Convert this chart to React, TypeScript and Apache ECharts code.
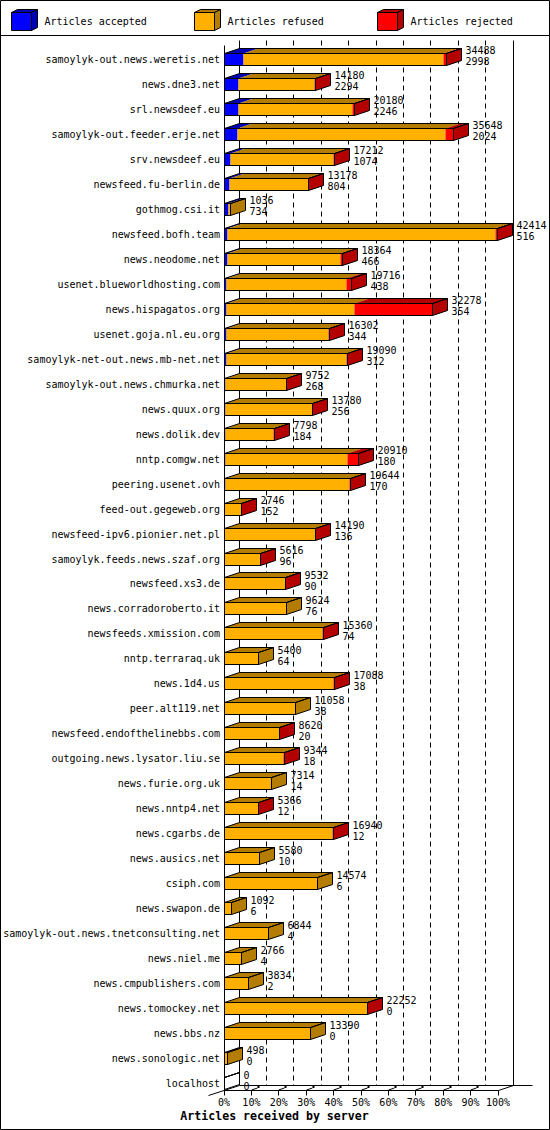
import React, { useEffect, useRef } from "react";
import * as echarts from "echarts";

const CATEGORIES = [
  "samoylyk-out.news.weretis.net", "news.dne3.net", "srl.newsdeef.eu", "samoylyk-out.feeder.erje.net",
  "srv.newsdeef.eu", "newsfeed.fu-berlin.de", "gothmog.csi.it", "newsfeed.bofh.team", "news.neodome.net",
  "usenet.blueworldhosting.com", "news.hispagatos.org", "usenet.goja.nl.eu.org", "samoylyk-net-out.news.mb-net.net",
  "samoylyk-out.news.chmurka.net", "news.quux.org", "news.dolik.dev", "nntp.comgw.net", "peering.usenet.ovh",
  "feed-out.gegeweb.org", "newsfeed-ipv6.pionier.net.pl", "samoylyk.feeds.news.szaf.org", "newsfeed.xs3.de",
  "news.corradoroberto.it", "newsfeeds.xmission.com", "nntp.terraraq.uk", "news.1d4.us", "peer.alt119.net",
  "newsfeed.endofthelinebbs.com", "outgoing.news.lysator.liu.se", "news.furie.org.uk", "news.nntp4.net",
  "news.cgarbs.de", "news.ausics.net", "csiph.com", "news.swapon.de", "samoylyk-out.news.tnetconsulting.net",
  "news.niel.me", "news.cmpublishers.com", "news.tomockey.net", "news.bbs.nz", "news.sonologic.net", "localhost",
];

// Articles offered (first label line)
const OFFERED = [
  34488, 14180, 20180, 35648, 17212, 13178, 1036, 42414, 18364, 19716, 32278, 16302, 19090, 9752, 13780, 7798,
  20910, 19644, 2746, 14190, 5616, 9532, 9624, 15360, 5400, 17088, 11058, 8620, 9344, 7314, 5366, 16940, 5580,
  14574, 1092, 6844, 2766, 3834, 22252, 13390, 498, 0,
];
// Articles accepted (second label line, blue)
const ACCEPTED = [
  2998, 2294, 2246, 2024, 1074, 804, 734, 516, 466, 438, 354, 344, 312, 268, 256, 184, 180, 170, 152, 136, 96, 90,
  76, 74, 64, 38, 38, 20, 18, 14, 12, 12, 10, 6, 6, 4, 4, 2, 0, 0, 0, 0,
];
// Articles refused (orange)
const REFUSED = [
  30990, 11786, 17704, 32294, 15988, 12254, 302, 41648, 17598, 18498, 19829, 15908, 18738, 9424, 13424, 7544,
  18930, 19324, 2534, 14004, 5490, 9402, 9548, 15256, 5336, 16990, 11020, 8570, 9286, 7300, 5324, 16878, 5570,
  14568, 1086, 6840, 2762, 3832, 22212, 13390, 498, 0,
];
// Articles rejected (red)
const REJECTED = [
  500, 100, 230, 1330, 150, 120, 0, 250, 300, 780, 12095, 50, 40, 60, 100, 70, 1800, 150, 60, 50, 30, 40, 0, 30, 0,
  60, 0, 30, 40, 0, 30, 50, 0, 0, 0, 0, 0, 0, 40, 0, 0, 0,
];

const TICK_LABELS = ["0%", "10%", "20%", "30%", "40%", "50%", "60%", "70%", "80%", "90%", "100%"];
const AXIS_MAX = 42500;
const SERIES_NAMES = ["Articles accepted", "Articles refused", "Articles rejected"];
const FRONT_COLORS = ["#0000FF", "#FFB000", "#FF0000"];
const DARK_COLORS = ["#0000B4", "#B47C00", "#B40000"];
const FONT = "'DejaVu Sans Mono', 'Liberation Mono', monospace";
const DX = 15;
const DY = -5;
const BAR_H = 12;

const snap = (v: number) => Math.floor(v) + 0.5;

function buildOption() {
  const n = CATEGORIES.length;
  const segs = [ACCEPTED, REFUSED, REJECTED];

  const segSeries = segs.map((arr, si) => {
    const data = CATEGORIES.map((_, k) => {
      let start = 0;
      for (let j = 0; j < si; j++) start += segs[j][k];
      return [start, start + arr[k], k];
    });
    return {
      type: "custom",
      name: SERIES_NAMES[si],
      silent: true,
      z: 3,
      encode: { x: [0, 1], y: 2 },
      data,
      renderItem: (_p: any, api: any) => {
        const s = api.value(0);
        const e = api.value(1);
        const idx = api.value(2);
        if (e - s <= 0) return { type: "group", children: [] };
        const p0 = api.coord([s, idx]);
        const p1 = api.coord([e, idx]);
        const top = snap(p0[1] - BAR_H / 2);
        const x0 = snap(p0[0]);
        const x1 = snap(p1[0]);
        return {
          type: "group",
          children: [
            {
              type: "rect",
              shape: { x: x0, y: top, width: x1 - x0, height: BAR_H },
              style: { fill: FRONT_COLORS[si] },
            },
            {
              type: "polygon",
              shape: { points: [[x0, top], [x1, top], [x1 + DX, top + DY], [x0 + DX, top + DY]] },
              style: { fill: DARK_COLORS[si] },
            },
          ],
        };
      },
    };
  });

  const outlineData = CATEGORIES.map((_, k) => {
    const total = ACCEPTED[k] + REFUSED[k] + REJECTED[k];
    const last = REJECTED[k] > 0 ? 2 : REFUSED[k] > 0 ? 1 : ACCEPTED[k] > 0 ? 0 : -1;
    return [total, k, last, OFFERED[k], ACCEPTED[k]];
  });

  const outlineSeries = {
    type: "custom",
    name: "outline",
    silent: true,
    z: 4,
    encode: { x: 0, y: 1 },
    data: outlineData,
    renderItem: (_p: any, api: any) => {
      const total = api.value(0);
      const idx = api.value(1);
      const last = api.value(2);
      const offered = api.value(3);
      const accepted = api.value(4);
      const p0 = api.coord([0, idx]);
      const p1 = api.coord([total, idx]);
      const cy = p0[1];
      const top = snap(cy - BAR_H / 2);
      const bot = top + BAR_H;
      const x0 = snap(p0[0]);
      const x1 = snap(p1[0]);
      const line = { stroke: "#000", lineWidth: 1 };
      const txt = (t: string, y: number) => ({
        type: "text",
        x: x1 + DX + 4,
        y,
        style: {
          text: t,
          fill: "#000",
          fontFamily: FONT,
          fontSize: 10,
          align: "left",
          verticalAlign: "middle",
          textAlign: "left",
          textVerticalAlign: "middle",
        },
      });
      return {
        type: "group",
        children: [
          {
            type: "polygon",
            shape: { points: [[x1, top], [x1 + DX, top + DY], [x1 + DX, bot + DY], [x1, bot]] },
            style: { fill: last >= 0 ? DARK_COLORS[last] : "none", ...line },
          },
          {
            type: "polygon",
            shape: { points: [[x0, top], [x1, top], [x1 + DX, top + DY], [x0 + DX, top + DY]] },
            style: { fill: "none", ...line },
          },
          {
            type: "rect",
            shape: { x: x0, y: top, width: x1 - x0, height: BAR_H },
            style: { fill: "none", ...line },
          },
          txt(String(offered), Math.round(cy) - 9),
          txt(String(accepted), Math.round(cy) + 2),
        ],
      };
    },
  };

  const frameSeries = {
    type: "custom",
    name: "frame",
    silent: true,
    z: 1,
    encode: { x: 0, y: 1 },
    data: [[0, 0]],
    renderItem: (_p: any, api: any) => {
      const X = (v: number) => api.coord([v, 0])[0];
      const cFirst = api.coord([0, 0])[1];
      const cLast = api.coord([0, n - 1])[1];
      const yBackTop = snap(cFirst - 19);
      const yFrontTop = snap(cFirst - 14);
      const yBack = snap(cLast + 2);
      const yFront = snap(cLast + 7);
      const x0 = snap(X(0));
      const xMax = snap(X(AXIS_MAX));
      const ln = (x1: number, y1: number, x2: number, y2: number, dash?: number[], w = 1) => ({
        type: "line",
        shape: { x1, y1, x2, y2 },
        style: { stroke: "#000", lineWidth: w, lineDash: dash },
      });
      const children: any[] = [];
      // back wall
      children.push(ln(x0 + DX, yBackTop, x0 + DX, yBack));
      children.push(ln(xMax + DX, yBackTop, xMax + DX, yBack));
      for (let i = 1; i < 10; i++) {
        const x = snap(X((AXIS_MAX / 10) * i)) + DX;
        children.push(ln(x, yBackTop, x, yBack, [5, 4]));
      }
      // front left edge
      children.push(ln(x0, yFrontTop, x0, yFront));
      // floor
      children.push(ln(x0 + DX, yBack, xMax + DX + 19, yBack));
      children.push(ln(x0, yFront, xMax, yFront));
      children.push(ln(x0 - 16, yFront + 5, x0 + DX, yBack));
      children.push(ln(xMax, yFront, xMax + DX, yBack));
      for (let i = 0; i <= 10; i++) {
        const x = snap(X((AXIS_MAX / 10) * i));
        children.push(ln(x, yFront, x, yFront + 5));
        if (i > 0 && i < 10) {
          children.push(ln(x, yFront - 0.5, x + 6, yFront - 2.5));
          children.push({
            type: "rect",
            shape: { x: x + 6, y: yFront - 4.5, width: 2, height: 2 },
            style: { fill: "#000" },
          });
        }
      }
      return { type: "group", children };
    },
  };

  const legendItems: any[] = [];
  const legendX = [11, 194, 377];
  SERIES_NAMES.forEach((name, i) => {
    const x = legendX[i];
    const y = 12.5;
    const w = 20;
    const h = 18;
    legendItems.push(
      { type: "rect", shape: { x: x + 0.5, y, width: w, height: h }, style: { fill: FRONT_COLORS[i], stroke: "#000", lineWidth: 1 } },
      {
        type: "polygon",
        shape: { points: [[x + 0.5, y], [x + 0.5 + w, y], [x + 0.5 + w + 6, y - 3], [x + 6.5, y - 3]] },
        style: { fill: DARK_COLORS[i], stroke: "#000", lineWidth: 1 },
      },
      {
        type: "polygon",
        shape: { points: [[x + 0.5 + w, y], [x + 0.5 + w + 6, y - 3], [x + 0.5 + w + 6, y + h - 3], [x + 0.5 + w, y + h]] },
        style: { fill: DARK_COLORS[i], stroke: "#000", lineWidth: 1 },
      },
      {
        type: "text",
        x: x + 33.5,
        y: 21,
        style: {
          text: name,
          fill: "#000",
          fontFamily: FONT,
          fontSize: 10,
          align: "left",
          verticalAlign: "middle",
          textAlign: "left",
          textVerticalAlign: "middle",
        },
      }
    );
  });

  return {
    animation: false,
    backgroundColor: "#fff",
    grid: { left: 224, right: 52, top: 47, bottom: 34, containLabel: false },
    xAxis: {
      type: "value",
      min: 0,
      max: AXIS_MAX,
      interval: AXIS_MAX / 10,
      axisLine: { show: false },
      axisTick: { show: false },
      splitLine: { show: false },
      axisLabel: {
        margin: 1,
        color: "#000",
        fontFamily: FONT,
        fontSize: 10,
        formatter: (v: number) => TICK_LABELS[Math.round(v / (AXIS_MAX / 10))] ?? "",
      },
    },
    yAxis: {
      type: "category",
      inverse: true,
      data: CATEGORIES,
      axisLine: { show: false },
      axisTick: { show: false },
      splitLine: { show: false },
      axisLabel: { interval: 0, margin: 4, color: "#000", fontFamily: FONT, fontSize: 10 },
    },
    graphic: [
      { type: "rect", shape: { x: 0.5, y: 0.5, width: 549, height: 1129 }, style: { fill: "none", stroke: "#000", lineWidth: 1 }, z: 10 },
      { type: "line", shape: { x1: 0, y1: 35.5, x2: 550, y2: 35.5 }, style: { stroke: "#000", lineWidth: 1 }, z: 10 },
      ...legendItems.map((e) => ({ ...e, z: 10 })),
      {
        type: "text",
        x: 274.5,
        y: 1116,
        z: 10,
        style: {
          text: "Articles received by server",
          fill: "#000",
          fontFamily: FONT,
          fontSize: 11.6,
          fontWeight: "bold",
          align: "center",
          verticalAlign: "middle",
          textAlign: "center",
          textVerticalAlign: "middle",
        },
      },
    ],
    series: [frameSeries, ...segSeries, outlineSeries],
  };
}

export default function App() {
  const ref = useRef<HTMLDivElement>(null);
  useEffect(() => {
    if (!ref.current) return;
    const chart = echarts.init(ref.current, undefined, { renderer: "svg" });
    chart.setOption(buildOption() as any);
    return () => chart.dispose();
  }, []);
  return (
    <div
      ref={ref}
      style={{ position: "absolute", left: 0, top: 0, width: 550, height: 1130, background: "#fff" }}
    />
  );
}
